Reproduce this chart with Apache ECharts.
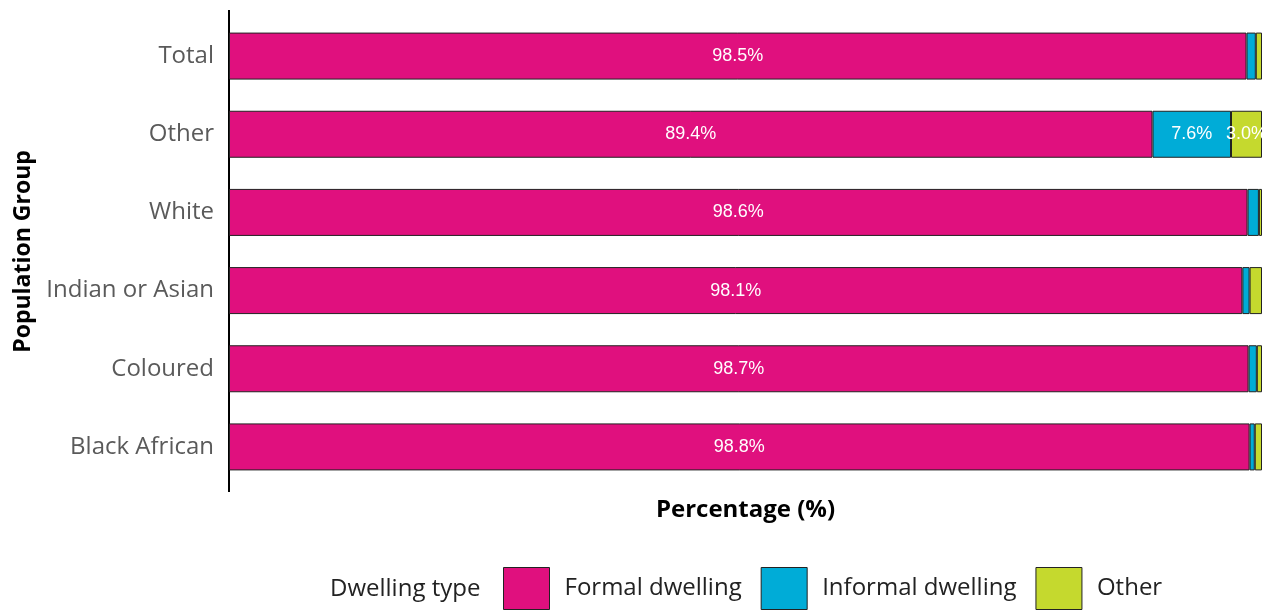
<!DOCTYPE html>
<html>
<head>
<meta charset="utf-8">
<script src="https://cdn.jsdelivr.net/npm/echarts@6/dist/echarts.min.js"></script>
<style>html,body{margin:0;padding:0;background:#fff;}#c{width:1273px;height:610px;}</style>
</head>
<body>
<div id="c"></div>
<script>
const categories = ['Total', 'Other', 'White', 'Indian or Asian', 'Coloured', 'Black African'];
const formalDwelling = [98.5, 89.4, 98.6, 98.1, 98.7, 98.8];
const informalDwelling = [0.9, 7.6, 1.1, 0.7, 0.8, 0.5];
const otherDwelling = [0.6, 3.0, 0.3, 1.2, 0.5, 0.7];
const seriesNames = ['Formal dwelling', 'Informal dwelling', 'Other'];
const colors = ['#E0107E', '#00ACD7', '#C5D92E'];

const GL = 229, GT = 17, GB = 124;
const chart = echarts.init(document.getElementById('c'));
function mk(name, data, color) {
  return {
    name: name, type: 'bar', stack: 'a', data: data, barWidth: 47,
    itemStyle: { color: color, borderColor: '#222', borderWidth: 1 },
    label: {
      show: true, position: 'inside', color: '#fff', fontSize: 18,
      fontFamily: 'Liberation Sans, Arial, sans-serif', padding: [3, 0, 0, 0],
      formatter: p => p.value >= 2 ? p.value.toFixed(1) + '%' : ''
    },
    emphasis: { disabled: true }
  };
}
chart.setOption({
  animation: false,
  grid: { left: GL, right: 11, top: GT, bottom: GB, containLabel: false, outerBoundsMode: 'none' },
  xAxis: {
    type: 'value', min: 0, max: 100,
    axisLine: { show: false }, axisTick: { show: false }, axisLabel: { show: false },
    splitLine: { show: false },
    name: 'Percentage (%)', nameLocation: 'middle', nameGap: 12,
    nameTextStyle: { fontSize: 24, fontWeight: 'bold', color: '#000', fontFamily: 'Open Sans, sans-serif' }
  },
  yAxis: {
    type: 'category', data: categories, inverse: true,
    axisLine: { show: false },
    axisTick: { show: false },
    axisLabel: { fontSize: 24, color: '#5a5a5a', margin: 15, fontFamily: 'Open Sans, sans-serif', padding: [4, 0, 0, 0] },
    name: 'Population Group', nameLocation: 'middle', nameGap: 194, nameRotate: 90,
    nameTextStyle: { fontSize: 23, fontWeight: 'bold', color: '#000', fontFamily: 'Open Sans, sans-serif' }
  },
  legend: {
    data: seriesNames, left: 498, top: 562, itemWidth: 46, itemHeight: 42, itemGap: 19,
    icon: 'rect',
    itemStyle: { borderColor: '#222', borderWidth: 1 },
    textStyle: { fontSize: 24, color: '#222', fontFamily: 'Open Sans, sans-serif', padding: [5, 0, 0, 10] },
    selectedMode: false
  },
  graphic: [{
    type: 'text', left: 330, top: 577,
    style: { text: 'Dwelling type', fontSize: 24, fill: '#222', fontFamily: 'Open Sans, sans-serif' }
  }, {
    type: 'line', silent: true,
    shape: { x1: GL, y1: GT - 7, x2: GL, y2: 610 - GB + 6 },
    style: { stroke: '#000', lineWidth: 2 }
  }],
  series: [
    mk(seriesNames[0], formalDwelling, colors[0]),
    mk(seriesNames[1], informalDwelling, colors[1]),
    mk(seriesNames[2], otherDwelling, colors[2])
  ]
});
</script>
</body>
</html>
